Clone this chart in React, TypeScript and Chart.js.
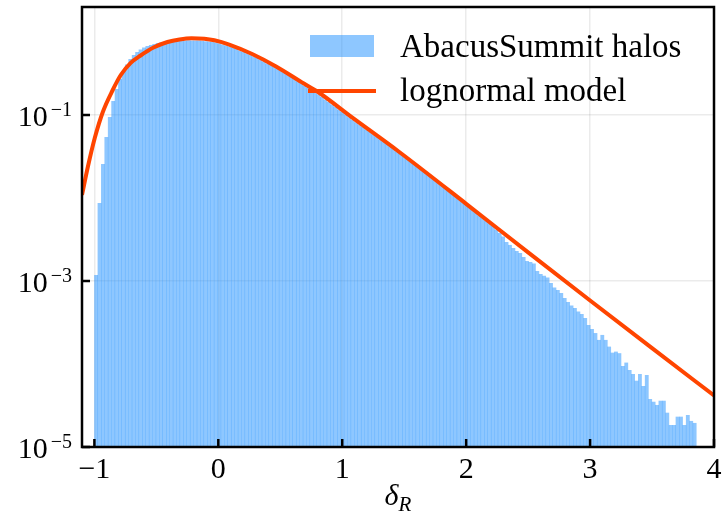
import React, { useEffect, useRef } from "react";
import { Chart, registerables } from "chart.js";

Chart.register(...registerables);

// ---- data ----
const binStart = -1.0;
const binWidth = 0.0276;

const histValues = [
  1.18e-3, 8.71e-3, 0.0257, 0.0543, 0.0946, 0.1475, 0.2057, 0.2716, 0.339, 0.406,
  0.473, 0.528, 0.574, 0.615, 0.651, 0.678, 0.697, 0.717, 0.737, 0.747,
  0.758, 0.768, 0.779, 0.781, 0.787, 0.79, 0.792, 0.793, 0.792, 0.79,
  0.787, 0.779, 0.776, 0.768, 0.758, 0.747, 0.727, 0.707, 0.688, 0.669,
  0.651, 0.624, 0.599, 0.574, 0.553, 0.531, 0.511, 0.486, 0.462, 0.44,
  0.418, 0.399, 0.38, 0.361, 0.342, 0.322, 0.304, 0.287, 0.271, 0.255,
  0.241, 0.224, 0.2115, 0.199, 0.1877, 0.1776, 0.1657, 0.1542, 0.1438, 0.1338,
  0.1248, 0.1165, 0.1083, 0.1011, 0.0941, 0.0878, 0.0819, 0.0766, 0.0717, 0.0669,
  0.0626, 0.0585, 0.0546, 0.0511, 0.0478, 0.0447, 0.0417, 0.039, 0.0364, 0.0341,
  0.0317, 0.0296, 0.0275, 0.0256, 0.0238, 0.0222, 0.0207, 0.0193, 0.0179, 0.0167,
  0.01546, 0.01434, 0.01338, 0.01238, 0.01148, 0.01066, 0.00986, 0.00912, 0.00847, 0.00779,
  0.00727, 0.00669, 0.00615, 0.00574, 0.00528, 0.00493, 0.0046, 0.00417, 0.00379, 0.00344,
  0.00295, 0.00272, 0.0025, 0.0023, 0.00217, 0.00195, 0.00174, 0.00169, 0.00162, 0.00132,
  0.00121, 0.00116, 0.0011, 9.46e-4, 8.35e-4, 7.79e-4, 7.17e-4, 6.24e-4, 5.58e-4, 5.07e-4,
  4.73e-4, 4.29e-4, 4.0e-4, 3.58e-4, 2.95e-4, 2.64e-4, 2.36e-4, 1.95e-4, 2.24e-4, 1.95e-4,
  1.62e-4, 1.37e-4, 1.41e-4, 1.35e-4, 9.46e-5, 1.04e-4, 8.47e-5, 7.58e-5, 6.29e-5, 7.58e-5,
  5.43e-5, 7.37e-5, 3.79e-5, 3.51e-5, 3.21e-5, 3.61e-5, 3.61e-5, 2.59e-5, 1.84e-5, 1.84e-5,
  2.32e-5, 2.32e-5, 1.84e-5, 2.43e-5, 2.06e-5, 1.95e-5,
];

const modelX = [
  -1.1, -1.053, -0.997, -0.932, -0.852, -0.787, -0.707, -0.627, -0.523, -0.41,
  -0.313, -0.217, -0.113, -0.032, 0.088, 0.273, 0.466, 0.675, 0.796, 1.093,
  1.455, 2.0, 2.5, 3.0, 3.5, 4.0,
];
const modelY = [
  0.0109, 0.0236, 0.0528, 0.1087, 0.2, 0.303, 0.424, 0.521, 0.65, 0.758,
  0.813, 0.84, 0.828, 0.794, 0.706, 0.543, 0.384, 0.247, 0.193, 0.0902,
  0.0363, 0.00851, 0.00221, 5.82e-4, 1.55e-4, 4.17e-5,
];

const xTicks = [-1, 0, 1, 2, 3, 4];
const xTickLabels = ["\u22121", "0", "1", "2", "3", "4"];
const yTicks = [1e-5, 1e-3, 1e-1];
const yTickExponents = ["\u22125", "\u22123", "\u22121"];
const seriesLabels = ["AbacusSummit halos", "lognormal model"];
const xRange = [-1.1, 4];
const yRange = [1e-5, 2];

const BAR_COLOR = "rgba(30,144,255,0.5)";
const LINE_COLOR = "#ff4500";
const SERIF = '"Liberation Serif", "DejaVu Serif", serif';

const decorPlugin = {
  id: "decor",
  afterDraw(chart: any) {
    const ctx = chart.ctx;
    const ca = chart.chartArea;
    const xs = chart.scales.x;
    const ys = chart.scales.y;
    ctx.save();
    // frame
    ctx.strokeStyle = "#000";
    ctx.lineWidth = 2.5;
    ctx.strokeRect(ca.left, ca.top, ca.right - ca.left, ca.bottom - ca.top);
    // inward ticks
    ctx.lineWidth = 2.5;
    ctx.beginPath();
    xTicks.forEach((v) => {
      const px = xs.getPixelForValue(v);
      ctx.moveTo(px, ca.bottom);
      ctx.lineTo(px, ca.bottom - 8);
    });
    yTicks.forEach((v) => {
      const py = ys.getPixelForValue(v);
      ctx.moveTo(ca.left, py);
      ctx.lineTo(ca.left + 8, py);
    });
    ctx.stroke();

    // x tick labels
    ctx.fillStyle = "#000";
    ctx.font = `30px ${SERIF}`;
    ctx.textAlign = "center";
    ctx.textBaseline = "alphabetic";
    xTicks.forEach((v, i) => {
      const px = xs.getPixelForValue(v);
      ctx.fillText(xTickLabels[i], px, ca.bottom + 31);
    });

    // y tick labels 10^{exp}
    yTicks.forEach((v, i) => {
      const py = ys.getPixelForValue(v);
      const right = ca.left - 10;
      ctx.font = `20px ${SERIF}`;
      ctx.textAlign = "right";
      const w = ctx.measureText(yTickExponents[i]).width;
      ctx.fillText(yTickExponents[i], right, py + 1);
      ctx.font = `30px ${SERIF}`;
      ctx.fillText("10", right - w - 3, py + 11);
    });

    // x axis title: delta_R
    const cx = (ca.left + ca.right) / 2;
    ctx.textAlign = "left";
    ctx.font = `italic 30px ${SERIF}`;
    const dW = ctx.measureText("\u03b4").width;
    ctx.font = `italic 21px ${SERIF}`;
    const rW = ctx.measureText("R").width;
    const startX = cx - (dW + rW) / 2;
    ctx.font = `italic 30px ${SERIF}`;
    ctx.fillText("\u03b4", startX, ca.bottom + 58);
    ctx.font = `italic 21px ${SERIF}`;
    ctx.fillText("R", startX + dW, ca.bottom + 64);

    // legend
    const lx = ca.right - 404;
    ctx.fillStyle = BAR_COLOR;
    ctx.fillRect(lx, ca.top + 28, 64, 22);
    ctx.strokeStyle = LINE_COLOR;
    ctx.lineWidth = 4;
    ctx.beginPath();
    ctx.moveTo(lx - 2, ca.top + 84);
    ctx.lineTo(lx + 66, ca.top + 84);
    ctx.stroke();
    ctx.fillStyle = "#000";
    ctx.font = `33px ${SERIF}`;
    ctx.textAlign = "left";
    ctx.fillText(seriesLabels[0], lx + 90, ca.top + 50);
    ctx.fillText(seriesLabels[1], lx + 90, ca.top + 94);
    ctx.restore();
  },
};

export default function App() {
  const ref = useRef<HTMLCanvasElement | null>(null);
  useEffect(() => {
    if (!ref.current) return;
    const barData = histValues.map((v, i) => ({ x: binStart + binWidth * (i + 0.5), y: v }));
    const lineData = modelX.map((x, i) => ({ x, y: modelY[i] }));
    const gridOpts = { color: "rgba(0,0,0,0.08)", lineWidth: 1.5, drawTicks: false };
    const chart = new Chart(ref.current, {
      type: "bar",
      data: {
        datasets: [
          {
            type: "line",
            label: seriesLabels[1],
            data: lineData,
            borderColor: LINE_COLOR,
            borderWidth: 4,
            pointRadius: 0,
            cubicInterpolationMode: "monotone",
            fill: false,
            order: 0,
          } as any,
          {
            type: "bar",
            label: seriesLabels[0],
            data: barData,
            backgroundColor: BAR_COLOR,
            borderWidth: 0,
            barPercentage: 1.12,
            categoryPercentage: 1,
            order: 1,
          } as any,
        ],
      },
      options: {
        responsive: false,
        animation: false,
        devicePixelRatio: 1,
        layout: { padding: { top: 7, right: 10, left: 0, bottom: 0 } },
        plugins: { legend: { display: false }, tooltip: { enabled: false } },
        scales: {
          x: {
            type: "linear",
            min: xRange[0],
            max: xRange[1],
            offset: false,
            z: 1,
            grid: { ...gridOpts, offset: false },
            border: { display: false },
            ticks: { display: false },
            afterBuildTicks: (s: any) => {
              s.ticks = xTicks.map((v) => ({ value: v }));
            },
            afterFit: (s: any) => {
              s.height = 82;
            },
          },
          y: {
            type: "logarithmic",
            min: yRange[0],
            max: yRange[1],
            z: 1,
            grid: gridOpts,
            border: { display: false },
            ticks: { display: false },
            afterBuildTicks: (s: any) => {
              s.ticks = yTicks.map((v) => ({ value: v }));
            },
            afterFit: (s: any) => {
              s.width = 82;
            },
          },
        },
      } as any,
      plugins: [decorPlugin],
    });
    return () => chart.destroy();
  }, []);
  return (
    <div style={{ position: "fixed", left: 0, top: 0, width: 724, height: 529, background: "#fff" }}>
      <canvas ref={ref} width={724} height={529} style={{ display: "block", width: 724, height: 529 }} />
    </div>
  );
}
